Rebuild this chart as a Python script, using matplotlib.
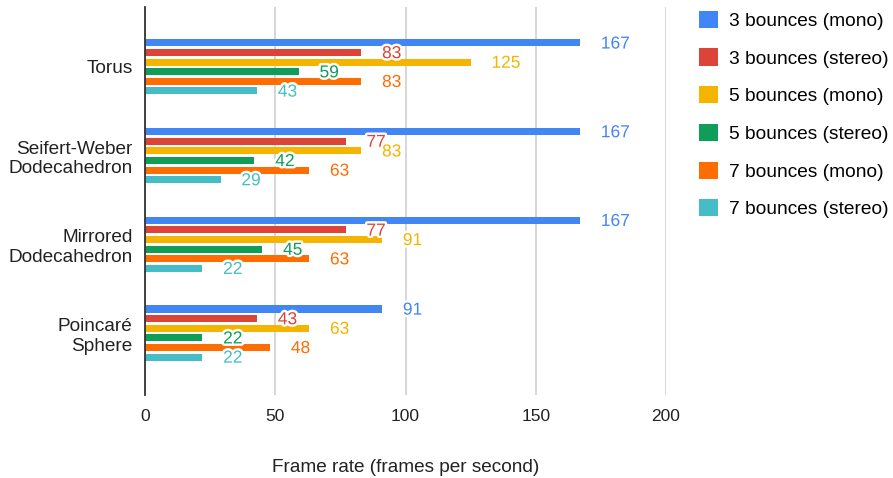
import numpy as np
import matplotlib
matplotlib.use('Agg')
import matplotlib.pyplot as plt
import matplotlib.patheffects as pe
from matplotlib.patches import Patch

plt.rcParams['font.family'] = ['Liberation Sans', 'DejaVu Sans']

# frame rates per scene and render mode
scenes = ['Torus', 'Seifert-Weber\nDodecahedron', 'Mirrored\nDodecahedron', 'Poincaré\nSphere']
series = ['3 bounces (mono)', '3 bounces (stereo)', '5 bounces (mono)',
          '5 bounces (stereo)', '7 bounces (mono)', '7 bounces (stereo)']
mono3 = [167, 167, 167, 91]
stereo3 = [83, 77, 77, 43]
mono5 = [125, 83, 91, 63]
stereo5 = [59, 42, 45, 22]
mono7 = [83, 63, 63, 48]
stereo7 = [43, 29, 22, 22]
xticks = [0, 50, 100, 150, 200]

values = [mono3, stereo3, mono5, stereo5, mono7, stereo7]
colors = ['#4285F4', '#DB4437', '#F4B400', '#0F9D58', '#FF6D00', '#46BDC6']

W, H = 893, 478
fig = plt.figure(figsize=(W/100, H/100), dpi=100)
ax = fig.add_axes([145/W, 1-395/H, (666-145)/W, (395-7)/H])

y = np.arange(len(scenes))
step = 0.1083
bh = 0.079
for i, (vals, c) in enumerate(zip(values, colors)):
    yy = y + (i-2.5)*step
    ax.barh(yy, vals, height=bh, color=c, zorder=3)
    for v, yv in zip(vals, yy):
        ax.annotate(str(v), (v, yv), xytext=(15, -0.8), textcoords='offset points',
                    ha='left', va='center', fontsize=12.5, color=c, zorder=5,
                    path_effects=[pe.withStroke(linewidth=3.5, foreground='white')])

ax.set_xlim(0, 200)
ax.set_ylim(3.699, -0.676)
ax.set_xticks(xticks)
ax.set_yticks(y)
ax.set_yticklabels(scenes, fontsize=13.7, color='#222222', linespacing=1.2)
ax.tick_params(axis='x', length=0, pad=10, labelsize=12.5, labelcolor='#222222')
ax.tick_params(axis='y', length=0, pad=9)
ax.grid(axis='x', color='#cccccc', linewidth=1.1, zorder=0)
for s in ['top', 'right', 'bottom']:
    ax.spines[s].set_visible(False)
ax.spines['left'].set_color('#333333')
ax.spines['left'].set_linewidth(1.3)
ax.spines['left'].set_zorder(4)
ax.set_xlabel('Frame rate (frames per second)', fontsize=13.7, color='#222222', labelpad=25)

handles = [Patch(facecolor=c, edgecolor='none') for c in colors]
fig.legend(handles, series, loc='upper left', bbox_to_anchor=(691/W, 1-3/H),
           frameon=False, fontsize=13.8, handlelength=1.0, handleheight=1.0,
           handletextpad=0.6, labelspacing=0.97, borderaxespad=0)

fig.savefig('out.png', dpi=100)
